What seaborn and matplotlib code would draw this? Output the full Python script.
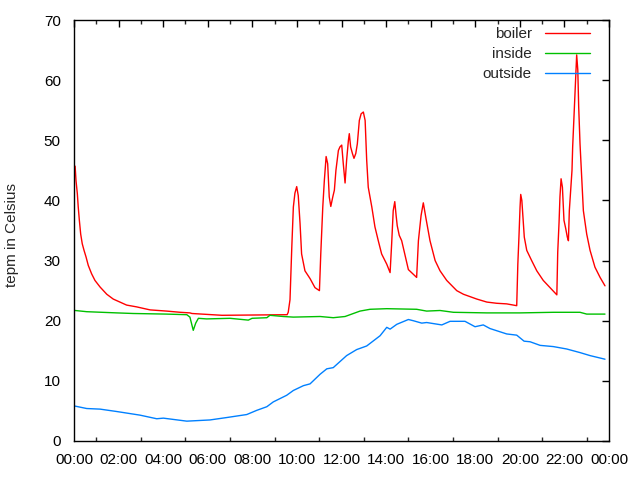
import matplotlib
matplotlib.use("Agg")
import matplotlib.pyplot as plt
import seaborn as sns
import pandas as pd
from matplotlib.ticker import MultipleLocator

# ---- data (hours of day, temperature in Celsius) ----
boiler_t = [0.05, 0.09, 0.15, 0.19, 0.24, 0.30, 0.37, 0.45, 0.54, 0.64, 0.79, 0.94, 1.17,
            1.47, 1.76, 2.06, 2.36, 2.81, 3.41, 4.16, 4.76, 5.20, 5.29, 6.64, 9.56,
            9.61, 9.69, 9.77, 9.84, 9.91, 9.99, 10.06, 10.14, 10.21, 10.36, 10.59, 10.81,
            11.01, 11.07, 11.16, 11.23, 11.31, 11.38, 11.45, 11.52, 11.61, 11.68, 11.75,
            11.86, 11.93, 12.01, 12.08, 12.16, 12.23, 12.31, 12.35, 12.41, 12.49, 12.56,
            12.64, 12.71, 12.80, 12.88, 12.98, 13.06, 13.13, 13.20, 13.36, 13.50, 13.65,
            13.80, 14.03, 14.18, 14.25, 14.32, 14.39, 14.45, 14.50, 14.59, 14.70, 15.00,
            15.37, 15.45, 15.57, 15.67, 15.79, 15.97, 16.20, 16.42, 16.72, 17.17, 17.47,
            18.07, 18.52, 18.96, 19.41, 19.86, 19.91, 19.96, 20.01, 20.04, 20.09, 20.13,
            20.20, 20.31, 20.53, 20.76, 21.05, 21.66, 21.70, 21.76, 21.80, 21.85, 21.91,
            21.98, 22.06, 22.13, 22.18, 22.22, 22.28, 22.34, 22.37, 22.43, 22.48, 22.52,
            22.55, 22.60, 22.64, 22.70, 22.78, 22.85, 23.00, 23.15, 23.37, 23.60, 23.82]
boiler_v = [45.7, 43.3, 41.1, 38.9, 36.7, 34.4, 32.8, 31.7, 30.6, 29.2, 27.8, 26.7, 25.6,
            24.4, 23.6, 23.1, 22.6, 22.3, 21.8, 21.6, 21.4, 21.3, 21.2, 20.9, 21.0,
            21.4, 23.5, 32.2, 38.9, 41.2, 42.3, 40.8, 36.2, 31.1, 28.3, 27.0, 25.5,
            25.0, 31.1, 38.9, 43.3, 47.3, 46.1, 40.6, 39.0, 40.6, 41.7, 45.0,
            48.3, 48.9, 49.2, 46.1, 42.9, 46.7, 50.0, 51.1, 48.9, 47.8, 47.0,
            47.8, 49.4, 53.3, 54.4, 54.7, 53.3, 46.7, 42.2, 38.9, 35.6, 33.3,
            31.1, 29.4, 28.0, 32.8, 38.3, 39.8, 37.5, 35.8, 34.2, 33.3, 28.5,
            27.2, 33.3, 37.5, 39.6, 37.0, 33.3, 30.0, 28.3, 26.7, 25.0, 24.4,
            23.6, 23.1, 22.9, 22.8, 22.5, 29.4, 33.9, 38.9, 41.0, 40.0, 37.8,
            33.9, 31.7, 30.0, 28.3, 26.7, 24.3, 31.4, 36.4, 40.6, 43.6, 42.2,
            36.7, 35.3, 33.9, 33.3, 38.3, 41.7, 45.0, 48.9, 53.9, 57.8, 61.7,
            64.2, 61.7, 55.6, 49.4, 43.3, 38.3, 34.4, 31.7, 28.9, 27.2, 25.8]

inside_t = [0.05, 0.57, 1.92, 2.66, 4.16, 5.06, 5.20, 5.35, 5.46, 5.58, 5.95, 7.00, 7.82,
            7.99, 8.65, 8.79, 9.39, 9.84, 11.04, 11.63, 12.16, 12.83, 13.28, 14.03, 15.37,
            15.82, 16.42, 17.02, 18.52, 20.01, 21.50, 22.70, 23.00, 23.82]
inside_v = [21.7, 21.5, 21.3, 21.2, 21.1, 21.0, 20.6, 18.4, 19.6, 20.4, 20.3, 20.4, 20.1,
            20.4, 20.5, 20.9, 20.7, 20.6, 20.7, 20.5, 20.7, 21.6, 21.9, 22.0, 21.9,
            21.6, 21.7, 21.4, 21.3, 21.3, 21.4, 21.4, 21.1, 21.1]

outside_t = [0.05, 0.57, 1.17, 1.92, 2.96, 3.71, 4.01, 5.06, 6.10, 6.85, 7.75, 8.20, 8.65,
             8.94, 9.54, 9.84, 10.29, 10.59, 11.04, 11.34, 11.63, 12.23, 12.68, 13.13,
             13.73, 14.03, 14.18, 14.48, 15.00, 15.22, 15.60, 15.82, 16.50, 16.87, 17.54,
             17.99, 18.36, 18.66, 19.41, 19.86, 20.19, 20.46, 20.91, 21.50, 22.10, 22.70,
             23.15, 23.82]
outside_v = [5.8, 5.4, 5.3, 4.9, 4.3, 3.7, 3.8, 3.3, 3.5, 3.9, 4.4, 5.1, 5.7,
             6.5, 7.6, 8.4, 9.2, 9.5, 11.1, 12.0, 12.2, 14.2, 15.2, 15.8,
             17.5, 18.9, 18.6, 19.4, 20.2, 20.0, 19.6, 19.7, 19.3, 19.9, 19.9,
             19.0, 19.3, 18.7, 17.8, 17.6, 16.6, 16.5, 15.9, 15.7, 15.3, 14.7,
             14.2, 13.6]

series_names = ["boiler", "inside", "outside"]
x_ticks = [0, 2, 4, 6, 8, 10, 12, 14, 16, 18, 20, 22, 24]
x_labels = ["00:00", "02:00", "04:00", "06:00", "08:00", "10:00", "12:00",
            "14:00", "16:00", "18:00", "20:00", "22:00", "00:00"]
y_ticks = [0, 10, 20, 30, 40, 50, 60, 70]
y_label = "tepm in Celsius"

df = pd.concat([
    pd.DataFrame({"time": boiler_t, "temp": boiler_v, "series": "boiler"}),
    pd.DataFrame({"time": inside_t, "temp": inside_v, "series": "inside"}),
    pd.DataFrame({"time": outside_t, "temp": outside_v, "series": "outside"}),
], ignore_index=True)

sns.set_style("white")
plt.rcParams["font.family"] = ["Liberation Sans", "DejaVu Sans"]

W, H = 640, 480
L, R, T, B = 74, 609, 20, 441
fig = plt.figure(figsize=(6.4, 4.8), dpi=100)
ax = fig.add_axes([L / W, 1 - B / H, (R - L) / W, (B - T) / H])

palette = {"boiler": "#ff0000", "inside": "#00c000", "outside": "#0080ff"}
sns.lineplot(data=df, x="time", y="temp", hue="series", hue_order=series_names,
             palette=palette, linewidth=1.0, ax=ax, estimator=None, sort=False)

ax.set_xlim(0, 24)
ax.set_ylim(0, 70)
ax.set_xticks(x_ticks)
ax.set_xticklabels(x_labels)
ax.set_yticks(y_ticks)
ax.xaxis.set_minor_locator(MultipleLocator(1))
ax.tick_params(axis="both", which="major", direction="in", length=5, width=1,
               top=True, right=True, labelsize=11, colors="black")
ax.tick_params(axis="x", which="minor", direction="in", length=3, width=1,
               top=True, bottom=True)
ax.tick_params(axis="x", which="major", pad=9)
ax.tick_params(axis="y", which="major", pad=9.5)
ax.set_xlabel("")
ax.set_ylabel(y_label, fontsize=11)
ax.yaxis.set_label_coords((19 - L) / (R - L), 0.49)
for sp in ax.spines.values():
    sp.set_visible(True)
    sp.set_color("black")
    sp.set_linewidth(1.0)
ax.grid(False)

handles, labels = ax.get_legend_handles_labels()
ax.legend(handles, labels, loc="upper right", frameon=False, markerfirst=False,
          fontsize=11, handlelength=2.95, handletextpad=0.85, labelspacing=0.4,
          borderaxespad=0.0, borderpad=0.0,
          bbox_to_anchor=(1 - 19 / (R - L), 1 - 7 / (B - T)))

fig.savefig("out.png", dpi=100)
